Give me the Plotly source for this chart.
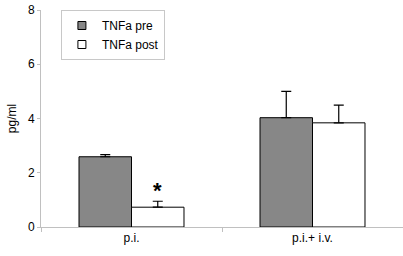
import plotly.graph_objects as go

categories = ["p.i.", "p.i.+ i.v."]
pre_values = [2.59, 4.03]
pre_errors = [0.08, 0.97]
post_values = [0.73, 3.84]
post_errors = [0.22, 0.65]
y_ticks = [0, 2, 4, 6, 8]

pre_color = "#878787"
post_color = "white"

fig = go.Figure()
fig.add_trace(go.Bar(
    name="TNFa pre", x=categories, y=pre_values, showlegend=False,
    marker=dict(color=pre_color, line=dict(color="black", width=1)),
    error_y=dict(type="data", array=pre_errors, symmetric=False, arrayminus=[0, 0],
                 color="black", thickness=1.2, width=5),
))
fig.add_trace(go.Bar(
    name="TNFa post", x=categories, y=post_values, showlegend=False,
    marker=dict(color=post_color, line=dict(color="black", width=1)),
    error_y=dict(type="data", array=post_errors, symmetric=False, arrayminus=[0, 0],
                 color="black", thickness=1.2, width=5),
))
# legend entries with small square symbols
for name, col in [("TNFa pre", pre_color), ("TNFa post", post_color)]:
    fig.add_trace(go.Scatter(
        name=name, x=[categories[0]], y=[None], mode="markers",
        marker=dict(symbol="square", size=8, color=col, line=dict(color="black", width=1)),
        showlegend=True, hoverinfo="skip",
    ))

fig.add_annotation(x=categories[0], y=post_values[0] + post_errors[0], text="<b>*</b>",
                   showarrow=False, xshift=26, yshift=-4, yanchor="bottom",
                   font=dict(size=22, color="black", family="Liberation Sans"))

fig.update_layout(
    width=403, height=256,
    margin=dict(l=41, r=0, t=10, b=29),
    paper_bgcolor="white", plot_bgcolor="white",
    barmode="group", bargap=0.42, bargroupgap=0,
    font=dict(family="Liberation Sans, Arial", size=12, color="black"),
    showlegend=True,
    legend=dict(x=0.055, y=1.0, xanchor="left", yanchor="top",
                bordercolor="#c8c8c8", borderwidth=1, bgcolor="white",
                font=dict(size=12), tracegroupgap=0, itemwidth=30),
)
fig.update_xaxes(showline=True, linecolor="#c0c0c0", linewidth=1,
                 ticks="outside", tickson="boundaries", ticklen=4, tickcolor="#c0c0c0",
                 showgrid=False, tickfont=dict(size=12))
fig.update_yaxes(range=[0, 8], tickvals=y_ticks, showline=True, linecolor="#c0c0c0",
                 linewidth=1, ticks="outside", ticklen=3, tickcolor="#c0c0c0",
                 showgrid=False, zeroline=False, tickfont=dict(size=12),
                 ticklabeloverflow="allow",
                 title=dict(text="pg/ml", standoff=8, font=dict(size=12)))

fig.write_html("out.html", config={"displayModeBar": False},
               post_script="document.body.style.margin='0';")
